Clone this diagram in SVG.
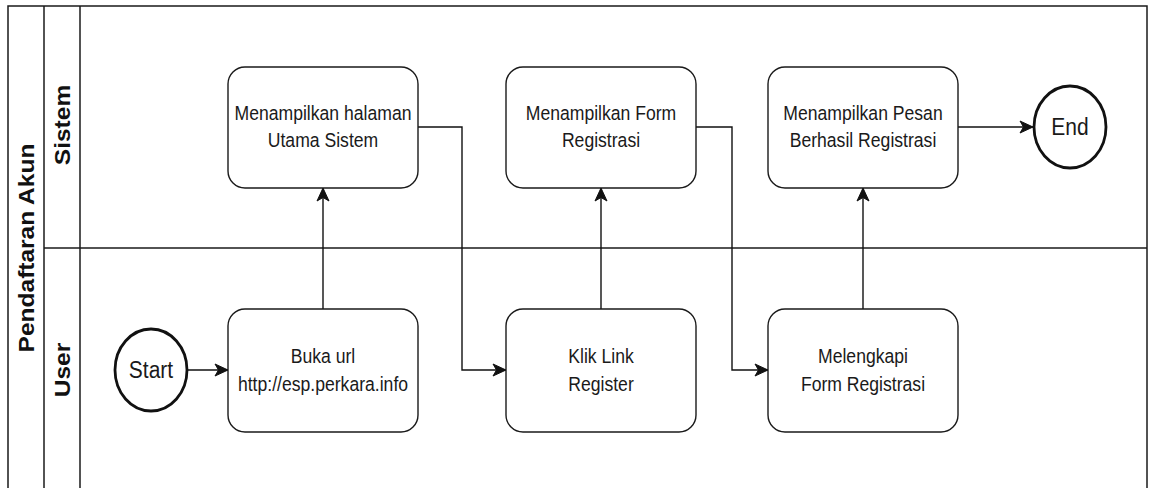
<svg xmlns="http://www.w3.org/2000/svg" width="1152" height="488" viewBox="0 0 1152 488">
  <style>
    .pool { fill: #ffffff; stroke: #1a1a1a; stroke-width: 1.5; }
    .lane { fill: none; stroke: #1a1a1a; stroke-width: 1.5; }
    .box { fill: #ffffff; stroke: #1a1a1a; stroke-width: 1.4; }
    .ev { fill: #ffffff; stroke: #111111; stroke-width: 2.8; }
    .t { font-family: "Liberation Sans", Arial, Helvetica, sans-serif; font-size: 17.6px; fill: #1a1a1a; text-anchor: middle; }
    .te { font-family: "Liberation Sans", Arial, Helvetica, sans-serif; font-size: 21px; fill: #1a1a1a; text-anchor: middle; }
    .lbl { font-family: "Liberation Sans", Arial, Helvetica, sans-serif; font-size: 21.5px; font-weight: bold; fill: #111111; text-anchor: middle; }
    .conn { fill: none; stroke: #111111; stroke-width: 1.4; marker-end: url(#arrow); }
  </style>
  <defs>
    <marker id="arrow" viewBox="-14 -7 15 14" refX="0" refY="0" markerWidth="15" markerHeight="14" markerUnits="userSpaceOnUse" orient="auto">
      <path d="M0,0 L-13,-6 L-9.5,0 L-13,6 Z" fill="#111111" stroke="#111111" stroke-width="1"/>
    </marker>
  </defs>
  <rect width="1152" height="488" fill="#ffffff"/>

  <g id="pool">
    <rect class="pool" x="8" y="6" width="1139" height="496"/>
    <line class="lane" x1="44" y1="6" x2="44" y2="500"/>
    <line class="lane" x1="80" y1="6" x2="80" y2="500"/>
    <line class="lane" x1="44" y1="248" x2="1147" y2="248"/>
    <text class="lbl" transform="translate(33.7,248) scale(1,1.14) rotate(-90)">Pendaftaran Akun</text>
  </g>
  <g id="lane-sistem">
    <text class="lbl" transform="translate(69.7,125) scale(1,1.14) rotate(-90)">Sistem</text>
  </g>
  <g id="lane-user">
    <text class="lbl" transform="translate(69.7,370) scale(1,1.14) rotate(-90)">User</text>
  </g>

  <g id="connectors">
    <path class="conn" d="M187,370 H228"/>
    <path class="conn" d="M323,309 V188"/>
    <path class="conn" d="M418,127 H462 V370 H506"/>
    <path class="conn" d="M601,309 V188"/>
    <path class="conn" d="M696,127 H732 V370 H768"/>
    <path class="conn" d="M863,309 V188"/>
    <path class="conn" d="M958,127 H1033"/>
  </g>

  <g id="start">
    <ellipse class="ev" cx="151" cy="370" rx="36" ry="41"/>
    <text class="te" transform="translate(151,377.5) scale(1,1.14)">Start</text>
  </g>
  <g id="end">
    <ellipse class="ev" cx="1070" cy="127" rx="36" ry="41"/>
    <text class="te" transform="translate(1070,134.5) scale(1,1.14)">End</text>
  </g>

  <g id="n-halaman">
    <rect class="box" x="228" y="67" width="190" height="121" rx="17" ry="17"/>
    <text class="t" transform="translate(323,120) scale(1,1.14)">Menampilkan halaman</text>
    <text class="t" transform="translate(323,147) scale(1,1.14)">Utama Sistem</text>
  </g>
  <g id="n-form">
    <rect class="box" x="506" y="67" width="190" height="121" rx="17" ry="17"/>
    <text class="t" transform="translate(601,120) scale(1,1.14)">Menampilkan Form</text>
    <text class="t" transform="translate(601,147) scale(1,1.14)">Registrasi</text>
  </g>
  <g id="n-pesan">
    <rect class="box" x="768" y="67" width="190" height="121" rx="17" ry="17"/>
    <text class="t" transform="translate(863,120) scale(1,1.14)">Menampilkan Pesan</text>
    <text class="t" transform="translate(863,147) scale(1,1.14)">Berhasil Registrasi</text>
  </g>
  <g id="n-buka">
    <rect class="box" x="228" y="309" width="190" height="123" rx="17" ry="17"/>
    <text class="t" transform="translate(323,363) scale(1,1.14)">Buka url</text>
    <text class="t" transform="translate(323,391) scale(1,1.14)">http://esp.perkara.info</text>
  </g>
  <g id="n-klik">
    <rect class="box" x="506" y="309" width="190" height="123" rx="17" ry="17"/>
    <text class="t" transform="translate(601,363) scale(1,1.14)">Klik Link</text>
    <text class="t" transform="translate(601,391) scale(1,1.14)">Register</text>
  </g>
  <g id="n-lengkapi">
    <rect class="box" x="768" y="309" width="190" height="123" rx="17" ry="17"/>
    <text class="t" transform="translate(863,363) scale(1,1.14)">Melengkapi</text>
    <text class="t" transform="translate(863,391) scale(1,1.14)">Form Registrasi</text>
  </g>
</svg>
